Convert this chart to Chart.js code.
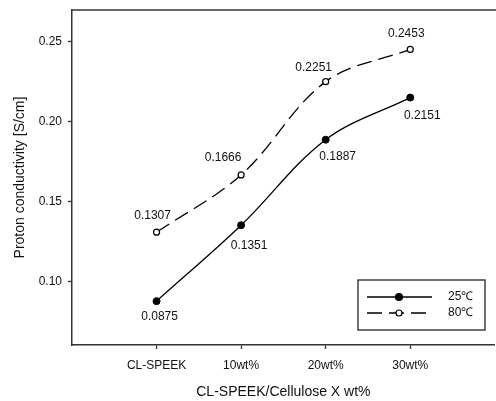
<!DOCTYPE html>
<html><head><meta charset="utf-8">
<script src="https://cdn.jsdelivr.net/npm/chart.js@4/dist/chart.umd.min.js"></script>
<style>html,body{margin:0;padding:0;overflow:hidden;background:#fff}canvas{display:block}</style>
</head><body>
<canvas id="c" width="500" height="401" style="width:500px;height:401px"></canvas>
<script>
const categories = ['CL-SPEEK', '10wt%', '20wt%', '30wt%'];
const series25 = [0.0875, 0.1351, 0.1887, 0.2151];
const series80 = [0.1307, 0.1666, 0.2251, 0.2453];
const seriesNames = ['25\u2103', '80\u2103'];
const yTicks = [0.10, 0.15, 0.20, 0.25];

const FONT = '"Liberation Sans", Arial, sans-serif';
const INK = '#111';

// per-point label offsets (layout only)
const labelOffsets = [
  [[3, 16], [8, 20], [12, 17], [12, 18]],
  [[-4, -17], [-18, -17], [-12, -14], [-4, -16]]
];

const deco = {
  id: 'deco',
  afterDraw(chart) {
    const ctx = chart.ctx, a = chart.chartArea;
    ctx.save();
    // top frame line
    ctx.strokeStyle = '#333'; ctx.lineWidth = 1.5;
    ctx.beginPath(); ctx.moveTo(a.left, a.top); ctx.lineTo(a.right + 5, a.top); ctx.stroke();
    // data labels
    ctx.fillStyle = INK; ctx.font = '12px ' + FONT;
    ctx.textAlign = 'center'; ctx.textBaseline = 'middle';
    chart.data.datasets.forEach((ds, di) => {
      chart.getDatasetMeta(di).data.forEach((pt, i) => {
        const o = labelOffsets[di][i];
        ctx.fillText(ds.data[i].y.toFixed(4), pt.x + o[0], pt.y + o[1]);
      });
    });
    // legend
    const bx = a.left + 286, by = a.top + 270, bw = 127, bh = 50;
    ctx.strokeStyle = '#222'; ctx.lineWidth = 1.3;
    ctx.strokeRect(bx, by, bw, bh);
    chart.data.datasets.forEach((ds, di) => {
      const y = by + 17 + di * 16;
      const x0 = bx + 9, x1 = bx + 74, xm = bx + 41;
      ctx.strokeStyle = '#000'; ctx.lineWidth = ds.borderWidth;
      ctx.setLineDash(ds.borderDash || []);
      ctx.beginPath(); ctx.moveTo(x0, y); ctx.lineTo(x1, y); ctx.stroke();
      ctx.setLineDash([]);
      ctx.beginPath(); ctx.arc(xm, y, ds.pointRadius, 0, Math.PI * 2);
      ctx.fillStyle = ds.pointBackgroundColor; ctx.fill();
      ctx.lineWidth = 1.2; ctx.strokeStyle = '#000'; ctx.stroke();
      ctx.fillStyle = INK; ctx.textAlign = 'left';
      ctx.fillText(ds.label, bx + 90, y);
    });
    ctx.restore();
  }
};

const noPad = s => { s.paddingTop = 0; s.paddingBottom = 0; s.paddingLeft = 0; s.paddingRight = 0; };

new Chart(document.getElementById('c'), {
  type: 'line',
  data: {
    datasets: [
      {
        label: seriesNames[0],
        data: series25.map((v, i) => ({ x: i, y: v })),
        borderColor: '#000', borderWidth: 1.3,
        pointRadius: 3.5, pointBackgroundColor: '#000', pointBorderColor: '#000', pointBorderWidth: 1,
        tension: 0.35, fill: false
      },
      {
        label: seriesNames[1],
        data: series80.map((v, i) => ({ x: i, y: v })),
        borderColor: '#000', borderWidth: 1.3, borderDash: [15, 7],
        pointRadius: 3, pointBackgroundColor: '#fff', pointBorderColor: '#000', pointBorderWidth: 1.2,
        tension: 0.35, fill: false
      }
    ]
  },
  options: {
    responsive: false, animation: false,
    layout: { padding: { left: 0, top: 10, right: 3, bottom: 0 } },
    plugins: { legend: { display: false }, tooltip: { enabled: false } },
    scales: {
      x: {
        type: 'linear', min: -1, max: 4,
        afterBuildTicks: s => { s.ticks = categories.map((c, i) => ({ value: i })); },
        afterFit: s => { s.height = 56; noPad(s); },
        ticks: { callback: v => categories[v] ?? '', color: INK, font: { family: FONT, size: 12 }, padding: 9, maxRotation: 0, autoSkip: false },
        grid: { drawOnChartArea: false, drawTicks: true, tickLength: 4, color: '#333', tickWidth: 1.3 },
        border: { display: true, color: '#333', width: 1.5 },
        title: { display: true, text: 'CL-SPEEK/Cellulose X wt%', color: INK, font: { family: FONT, size: 14 }, padding: { top: 0, bottom: 0 } }
      },
      y: {
        min: 0.06, max: 0.27,
        afterBuildTicks: s => { s.ticks = yTicks.map(v => ({ value: v })); },
        afterFit: s => { s.width = 72; noPad(s); },
        ticks: { callback: v => v.toFixed(2), color: INK, font: { family: FONT, size: 12 }, padding: 6 },
        grid: { drawOnChartArea: false, drawTicks: true, tickLength: 4, color: '#333', tickWidth: 1.3 },
        border: { display: true, color: '#333', width: 1.5 },
        title: { display: true, text: 'Proton conductivity [S/cm]', color: INK, font: { family: FONT, size: 14 }, padding: { top: 12, bottom: 0 } }
      }
    }
  },
  plugins: [deco]
});
</script>
</body></html>
